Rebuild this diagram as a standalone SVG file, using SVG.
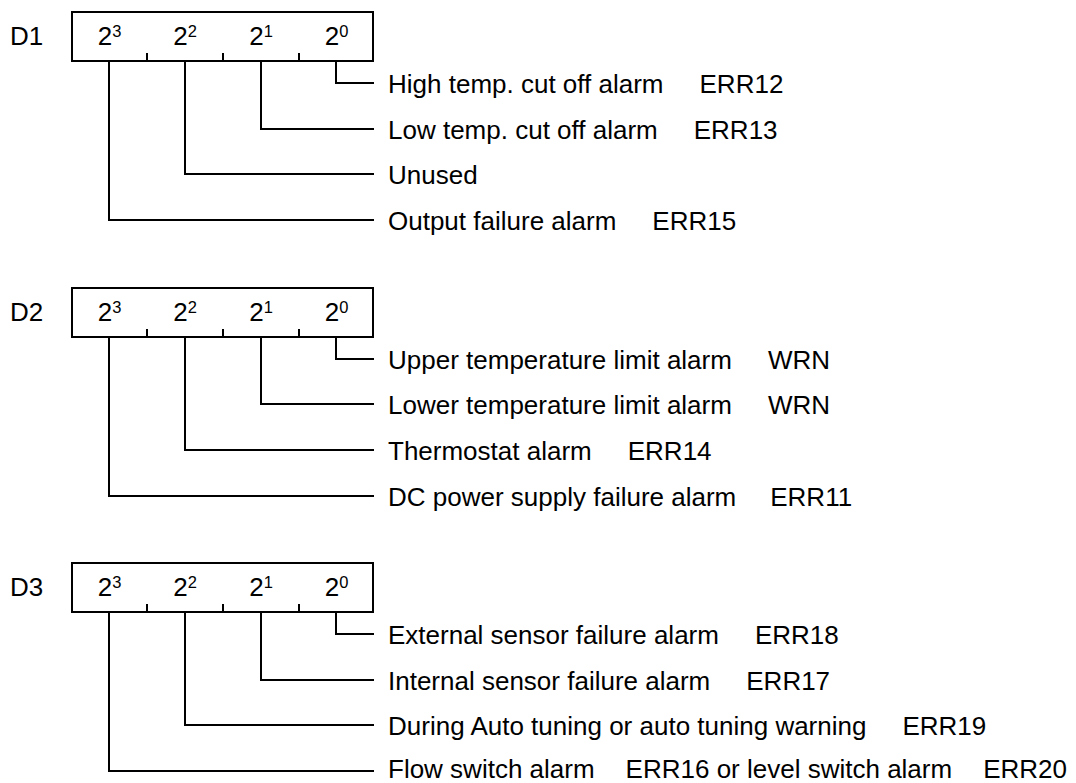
<svg xmlns="http://www.w3.org/2000/svg" width="1076" height="783" viewBox="0 0 1076 783">
<style>
  text { font-family: "Liberation Sans", Arial, sans-serif; fill: #000; }
  .lbl { font-size: 26px; }
  .bit { font-size: 26px; text-anchor: middle; }
  .sup { font-size: 16.5px; }
  .box { fill: none; stroke: #000; stroke-width: 2; }
  .tick { stroke: #000; stroke-width: 2; }
  .conn { fill: none; stroke: #000; stroke-width: 2; stroke-linejoin: miter; }
</style>
<rect width="1076" height="783" fill="#fff"/>

<!-- D1 register -->
<g id="d1-register">
  <text class="lbl" x="10" y="45">D1</text>
  <rect class="box" x="72" y="12" width="301" height="49"/>
  <line class="tick" x1="147" y1="53" x2="147" y2="61"/>
  <line class="tick" x1="223" y1="53" x2="223" y2="61"/>
  <line class="tick" x1="299" y1="53" x2="299" y2="61"/>
  <text class="bit" x="109.5" y="45">2<tspan class="sup" dy="-8">3</tspan></text>
  <text class="bit" x="185" y="45">2<tspan class="sup" dy="-8">2</tspan></text>
  <text class="bit" x="261" y="45">2<tspan class="sup" dy="-8">1</tspan></text>
  <text class="bit" x="336.5" y="45">2<tspan class="sup" dy="-8">0</tspan></text>
</g>
<g id="d1-bit0"><text class="lbl" x="388" y="92.5">High temp. cut off alarm<tspan dx="36">ERR12</tspan></text></g>
<g id="d1-bit1"><text class="lbl" x="388" y="138.5">Low temp. cut off alarm<tspan dx="36">ERR13</tspan></text></g>
<g id="d1-bit2"><text class="lbl" x="388" y="183.5">Unused</text></g>
<g id="d1-bit3"><text class="lbl" x="388" y="229.5">Output failure alarm<tspan dx="36">ERR15</tspan></text></g>

<!-- D2 register -->
<g id="d2-register">
  <text class="lbl" x="10" y="321">D2</text>
  <rect class="box" x="72" y="288" width="301" height="49"/>
  <line class="tick" x1="147" y1="329" x2="147" y2="337"/>
  <line class="tick" x1="223" y1="329" x2="223" y2="337"/>
  <line class="tick" x1="299" y1="329" x2="299" y2="337"/>
  <text class="bit" x="109.5" y="321">2<tspan class="sup" dy="-8">3</tspan></text>
  <text class="bit" x="185" y="321">2<tspan class="sup" dy="-8">2</tspan></text>
  <text class="bit" x="261" y="321">2<tspan class="sup" dy="-8">1</tspan></text>
  <text class="bit" x="336.5" y="321">2<tspan class="sup" dy="-8">0</tspan></text>
</g>
<g id="d2-bit0"><text class="lbl" x="388" y="368.5">Upper temperature limit alarm<tspan dx="36">WRN</tspan></text></g>
<g id="d2-bit1"><text class="lbl" x="388" y="413.5">Lower temperature limit alarm<tspan dx="36">WRN</tspan></text></g>
<g id="d2-bit2"><text class="lbl" x="388" y="459.5">Thermostat alarm<tspan dx="36">ERR14</tspan></text></g>
<g id="d2-bit3"><text class="lbl" x="388" y="505.5">DC power supply failure alarm<tspan dx="34">ERR11</tspan></text></g>

<!-- D3 register -->
<g id="d3-register">
  <text class="lbl" x="10" y="596">D3</text>
  <rect class="box" x="72" y="563" width="301" height="49"/>
  <line class="tick" x1="147" y1="604" x2="147" y2="612"/>
  <line class="tick" x1="223" y1="604" x2="223" y2="612"/>
  <line class="tick" x1="299" y1="604" x2="299" y2="612"/>
  <text class="bit" x="109.5" y="596">2<tspan class="sup" dy="-8">3</tspan></text>
  <text class="bit" x="185" y="596">2<tspan class="sup" dy="-8">2</tspan></text>
  <text class="bit" x="261" y="596">2<tspan class="sup" dy="-8">1</tspan></text>
  <text class="bit" x="336.5" y="596">2<tspan class="sup" dy="-8">0</tspan></text>
</g>
<g id="d3-bit0"><text class="lbl" x="388" y="643.5">External sensor failure alarm<tspan dx="36">ERR18</tspan></text></g>
<g id="d3-bit1"><text class="lbl" x="388" y="689.5">Internal sensor failure alarm<tspan dx="36">ERR17</tspan></text></g>
<g id="d3-bit2"><text class="lbl" x="388" y="734.5">During Auto tuning or auto tuning warning<tspan dx="36">ERR19</tspan></text></g>
<g id="d3-bit3"><text class="lbl" x="388" y="777.5">Flow switch alarm<tspan dx="31">ERR16 or level switch alarm</tspan><tspan dx="31">ERR20</tspan></text></g>

<g id="connectors">
  <path class="conn" d="M336,61 V83 H374"/>
  <path class="conn" d="M261,61 V129 H374"/>
  <path class="conn" d="M185,61 V174 H374"/>
  <path class="conn" d="M109,61 V220 H374"/>

  <path class="conn" d="M336,337 V359 H374"/>
  <path class="conn" d="M261,337 V404 H374"/>
  <path class="conn" d="M185,337 V450 H374"/>
  <path class="conn" d="M109,337 V496 H374"/>

  <path class="conn" d="M336,612 V634 H374"/>
  <path class="conn" d="M261,612 V680 H374"/>
  <path class="conn" d="M185,612 V725 H374"/>
  <path class="conn" d="M109,612 V771 H374"/>
</g>
</svg>
